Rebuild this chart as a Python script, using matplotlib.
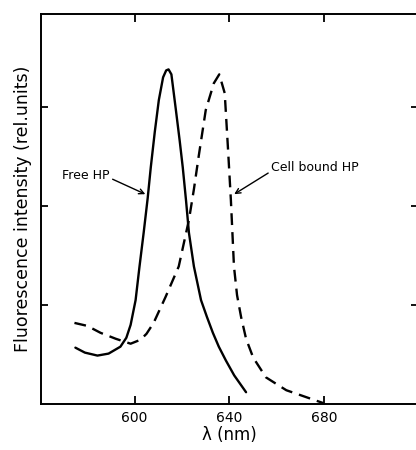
import numpy as np
import matplotlib.pyplot as plt

plt.rcParams['font.family'] = 'DejaVu Sans'

# free HP (solid)
free_x = [575, 579, 584.3, 589, 594, 596.5, 598.3, 600.4, 602, 603.8, 605.5, 606.8,
          608.5, 610.2, 612, 613.3, 614.3, 615.5, 617.4, 619, 620.3, 621.7, 622.9,
          625, 628, 630.5, 633, 635.5, 638.5, 642, 647]
free_y = [0.57, 0.52, 0.49, 0.51, 0.58, 0.67, 0.8, 1.05, 1.38, 1.73, 2.08, 2.39,
          2.75, 3.07, 3.3, 3.37, 3.38, 3.33, 2.97, 2.66, 2.39, 2.05, 1.73,
          1.39, 1.05, 0.88, 0.72, 0.58, 0.44, 0.29, 0.12]

# cell bound HP (dashed)
bound_x = [574.6, 580, 585.6, 592, 598.3, 602.5, 605, 608, 613, 618.6, 622.9, 625,
           627, 630, 633.4, 635.7, 638, 639.4, 640.6, 641.9, 643.2, 644.9, 647,
           650, 655.4, 660, 664, 672.4, 679.6]
bound_y = [0.82, 0.79, 0.72, 0.66, 0.61, 0.65, 0.71, 0.82, 1.08, 1.39, 1.86, 2.17,
           2.5, 2.97, 3.24, 3.33, 3.14, 2.57, 2.06, 1.39, 1.1, 0.88, 0.66,
           0.47, 0.27, 0.2, 0.14, 0.07, 0.01]

xticks = [600, 640, 680]
yticks = [1, 2, 3]

fig = plt.figure(figsize=(4.16, 4.5), dpi=100)
ax = fig.add_axes([0.0986, 0.102, 0.906, 0.867])

ax.plot(free_x, free_y, color='k', lw=1.7, solid_capstyle='round')
ax.plot(bound_x, bound_y, color='k', lw=1.7, linestyle=(0, (5, 3)))

ax.set_xlim(560.5, 719.5)
ax.set_ylim(0, 3.94)

ax.set_xticks(xticks)
ax.set_yticks(yticks)
ax.set_yticklabels([])
ax.tick_params(axis='x', direction='in', top=True, length=6, width=1.3,
               labelsize=10, pad=5)
ax.tick_params(axis='y', direction='in', right=True, length=5, width=1.3)
for s in ['left', 'bottom', 'top']:
    ax.spines[s].set_linewidth(1.4)
ax.spines['right'].set_visible(False)

ax.set_xlabel('\u03bb (nm)', fontsize=12, labelpad=1)
ax.set_ylabel('Fluorescence intensity (rel.units)', fontsize=12.5, labelpad=3)

ax.annotate('Free HP', xy=(604.5, 2.12), xytext=(569.5, 2.31),
            fontsize=9, va='center', ha='left',
            arrowprops=dict(arrowstyle='->', color='k', lw=1,
                            shrinkA=0, shrinkB=0, relpos=(1, 0.3)))
ax.annotate('Cell bound HP', xy=(642, 2.12), xytext=(657.5, 2.39),
            fontsize=9, va='center', ha='left',
            arrowprops=dict(arrowstyle='->', color='k', lw=1,
                            shrinkA=0, shrinkB=0, relpos=(0, 0.2)))

plt.savefig('out.png', dpi=100)
